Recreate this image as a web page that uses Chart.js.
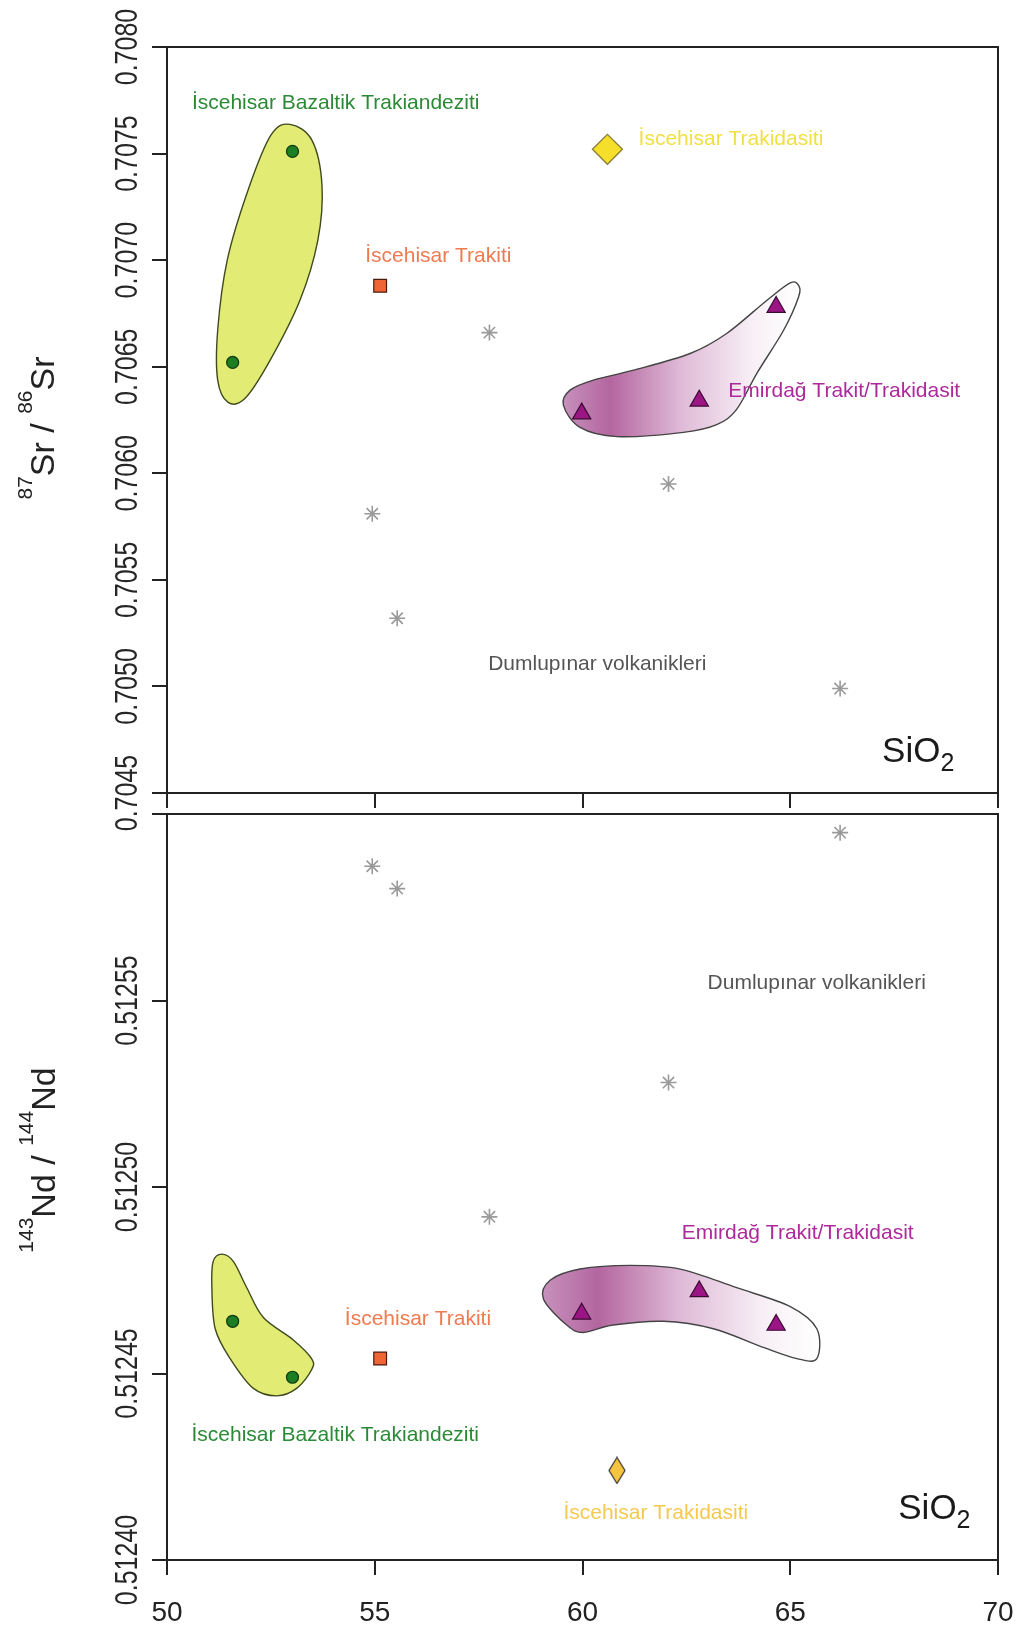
<!DOCTYPE html>
<html>
<head>
<meta charset="utf-8">
<script src="https://cdn.jsdelivr.net/npm/chart.js@4.4.1/dist/chart.umd.min.js"></script>
<style>
html, body { margin: 0; padding: 0; background: #fff; }
#wrap { position: relative; width: 1030px; height: 1629px; }
canvas { position: absolute; left: 0; }
#srChart { top: 0; }
#ndChart { top: 800px; }
</style>
</head>
<body>
<div id="wrap">
  <canvas id="srChart" width="1030" height="840"></canvas>
  <canvas id="ndChart" width="1030" height="829"></canvas>
</div>
<script>
const FONT = '"Liberation Sans", Arial, Helvetica, sans-serif';

// axes
const sio2Ticks = [50, 55, 60, 65, 70];
const sio2TickLabels = ['50', '55', '60', '65', '70'];
const srTicks = [0.7045, 0.7050, 0.7055, 0.7060, 0.7065, 0.7070, 0.7075, 0.7080];
const srTickLabels = ['0.7045', '0.7050', '0.7055', '0.7060', '0.7065', '0.7070', '0.7075', '0.7080'];
const ndTicks = [0.51240, 0.51245, 0.51250, 0.51255, 0.51260];
const ndTickLabels = ['0.51240', '0.51245', '0.51250', '0.51255', ''];

// Dumlupınar volkanikleri
const dumluSiO2 = [54.94, 55.54, 57.76, 62.07, 66.20];
const dumluSr = [0.70581, 0.70532, 0.70666, 0.70595, 0.70499];
const dumluNd = [0.512586, 0.512580, 0.512492, 0.512528, 0.512595];

// İscehisar Bazaltik Trakiandeziti
const bazSiO2 = [51.58, 53.02];
const bazSr = [0.70652, 0.70751];
const bazNd = [0.512464, 0.512449];

// İscehisar Trakiti
const trakitiSiO2 = [55.13];
const trakitiSr = [0.70688];
const trakitiNd = [0.512454];

// İscehisar Trakidasiti
const trakidasitiSiO2Sr = [60.60];
const trakidasitiSr = [0.70752];
const trakidasitiSiO2Nd = [60.83];
const trakidasitiNd = [0.512424];

// Emirdağ Trakit/Trakidasit
const emirSiO2 = [59.98, 62.81, 64.66];
const emirSr = [0.70628, 0.70634, 0.70678];
const emirNd = [0.512466, 0.512472, 0.512463];

// field outlines [SiO2, ratio]
const bazFieldSr = [[52.96, 0.707637], [53.49, 0.707562], [53.73, 0.707351], [53.63, 0.707093], [53.20, 0.706812],
  [52.48, 0.706530], [51.88, 0.706352], [51.47, 0.706333], [51.22, 0.706437], [51.22, 0.706671],
  [51.45, 0.707000], [51.95, 0.707328], [52.50, 0.707586]];
const emirFieldSr = [[59.54, 0.706320], [59.94, 0.706215], [60.83, 0.706172], [62.43, 0.706192], [63.23, 0.706228],
  [63.71, 0.706300], [64.20, 0.706470], [64.84, 0.706671], [65.20, 0.706827], [65.20, 0.706882],
  [65.00, 0.706893], [64.44, 0.706812], [63.47, 0.706656], [62.59, 0.706562], [61.23, 0.706484],
  [60.26, 0.706437], [59.70, 0.706390]];
const bazFieldNd = [[51.32, 0.512482], [51.60, 0.512480], [51.92, 0.512473], [52.32, 0.512465], [53.04, 0.512459],
  [53.48, 0.512454], [53.48, 0.512451], [53.12, 0.512446], [52.64, 0.512444], [52.08, 0.512446],
  [51.52, 0.512454], [51.16, 0.512462], [51.08, 0.512473], [51.11, 0.512480]];
const emirFieldNd = [[59.06, 0.512470], [59.22, 0.512475], [59.94, 0.512478], [61.15, 0.512479], [62.35, 0.512478],
  [63.71, 0.512473], [64.99, 0.512468], [65.64, 0.512462], [65.64, 0.512454], [65.16, 0.512454],
  [64.35, 0.512457], [63.15, 0.512462], [61.95, 0.512464], [60.74, 0.512463], [60.02, 0.512461],
  [59.62, 0.512463]];

function points(xs, ys) {
  return xs.map((x, i) => ({ x: x, y: ys[i] }));
}

// narrow diamond for the lower panel
function makeDiamond(w, h, fill) {
  const c = document.createElement('canvas');
  c.width = w + 2; c.height = h + 2;
  const g = c.getContext('2d');
  g.beginPath();
  g.moveTo(c.width / 2, 1);
  g.lineTo(c.width - 1, c.height / 2);
  g.lineTo(c.width / 2, c.height - 1);
  g.lineTo(1, c.height / 2);
  g.closePath();
  g.fillStyle = fill;
  g.fill();
  g.strokeStyle = '#333';
  g.lineWidth = 1.2;
  g.stroke();
  return c;
}

function smoothPath(ctx, pts) {
  const n = pts.length;
  ctx.beginPath();
  ctx.moveTo(pts[0][0], pts[0][1]);
  for (let i = 0; i < n; i++) {
    const p0 = pts[(i - 1 + n) % n], p1 = pts[i], p2 = pts[(i + 1) % n], p3 = pts[(i + 2) % n];
    ctx.bezierCurveTo(
      p1[0] + (p2[0] - p0[0]) / 6, p1[1] + (p2[1] - p0[1]) / 6,
      p2[0] - (p3[0] - p1[0]) / 6, p2[1] - (p3[1] - p1[1]) / 6,
      p2[0], p2[1]);
  }
  ctx.closePath();
}

// fields behind the markers
const fieldPlugin = {
  id: 'fields',
  beforeDatasetsDraw(chart, args, opts) {
    const ctx = chart.ctx, xs = chart.scales.x, ys = chart.scales.y;
    opts.fields.forEach(f => {
      const pts = f.outline.map(p => [xs.getPixelForValue(p[0]), ys.getPixelForValue(p[1])]);
      ctx.save();
      smoothPath(ctx, pts);
      if (f.gradient) {
        const left = Math.min(...pts.map(p => p[0]));
        const right = Math.max(...pts.map(p => p[0]));
        const grad = ctx.createLinearGradient(left, 0, right, 0);
        grad.addColorStop(0, '#c690bc');
        grad.addColorStop(0.2, '#b4669f');
        grad.addColorStop(0.5, '#dfbad7');
        grad.addColorStop(0.8, '#f7eff5');
        grad.addColorStop(1, '#ffffff');
        ctx.fillStyle = grad;
      } else {
        ctx.fillStyle = f.fill;
      }
      ctx.fill();
      ctx.strokeStyle = f.stroke;
      ctx.lineWidth = 1.4;
      ctx.stroke();
      ctx.restore();
    });
  }
};

function smallSize(size, kind) {
  return Math.round(size * (kind === 'sub' ? 0.72 : 0.62));
}

function measureRich(ctx, parts, size) {
  let w = 0;
  parts.forEach(p => {
    ctx.font = (p[1] ? smallSize(size, p[1]) : size) + 'px ' + FONT;
    w += ctx.measureText(p[0]).width;
  });
  return w;
}

function fillRich(ctx, parts, size, x, y) {
  parts.forEach(p => {
    ctx.font = (p[1] ? smallSize(size, p[1]) : size) + 'px ' + FONT;
    let dy = 0;
    if (p[1] === 'sup') dy = -size * 0.66;
    if (p[1] === 'sub') dy = size * 0.25;
    ctx.fillText(p[0], x, y + dy);
    x += ctx.measureText(p[0]).width;
  });
}

// frame, rotated tick labels, axis title and annotations
const decorPlugin = {
  id: 'decor',
  afterDatasetsDraw(chart, args, opts) {
    const ctx = chart.ctx, a = chart.chartArea, xs = chart.scales.x, ys = chart.scales.y;
    ctx.save();
    ctx.strokeStyle = '#222';
    ctx.lineWidth = 2;
    ctx.beginPath();
    ctx.moveTo(a.left, a.top);
    ctx.lineTo(a.right, a.top);
    ctx.lineTo(a.right, a.bottom);
    ctx.stroke();

    ys.ticks.forEach((t, i) => {
      const label = opts.tickLabels[i];
      if (!label) return;
      const py = ys.getPixelForValue(t.value);
      ctx.save();
      ctx.translate(137, py);
      ctx.rotate(-Math.PI / 2);
      ctx.scale(1, 1.25);
      ctx.font = '25px ' + FONT;
      ctx.fillStyle = '#262626';
      ctx.textAlign = 'center';
      ctx.textBaseline = 'alphabetic';
      ctx.fillText(label, 0, 0);
      ctx.restore();
    });

    ctx.save();
    ctx.fillStyle = '#222';
    ctx.textBaseline = 'alphabetic';
    ctx.textAlign = 'left';
    const tw = measureRich(ctx, opts.title, 34);
    ctx.translate(opts.titleX, opts.titleY);
    ctx.rotate(-Math.PI / 2);
    fillRich(ctx, opts.title, 34, -tw / 2, 0);
    ctx.restore();

    opts.notes.forEach(n => {
      const px = xs.getPixelForValue(n.x), py = ys.getPixelForValue(n.y);
      ctx.fillStyle = n.color;
      ctx.textAlign = 'left';
      ctx.textBaseline = 'alphabetic';
      if (n.rich) {
        fillRich(ctx, n.rich, n.size, px, py);
      } else {
        ctx.font = n.size + 'px ' + FONT;
        ctx.fillText(n.text, px, py);
      }
    });
    ctx.restore();
  }
};

const axisLine = { color: '#222', lineWidth: 2, drawOnChartArea: false, tickLength: 15 };
const axisBorder = { color: '#222', width: 2 };

function baseDatasets(sr) {
  return [
    {
      label: 'Dumlupınar volkanikleri',
      data: points(dumluSiO2, sr ? dumluSr : dumluNd),
      pointStyle: 'star', pointRadius: 8, pointBorderColor: '#9a9a9a', pointBorderWidth: 1.6,
      pointBackgroundColor: '#9a9a9a'
    },
    {
      label: 'İscehisar Bazaltik Trakiandeziti',
      data: points(bazSiO2, sr ? bazSr : bazNd),
      pointStyle: 'circle', pointRadius: 6, pointBackgroundColor: '#1d7d22', pointBorderColor: '#0f3a10', pointBorderWidth: 1.2
    },
    {
      label: 'İscehisar Trakiti',
      data: points(trakitiSiO2, sr ? trakitiSr : trakitiNd),
      pointStyle: 'rect', pointRadius: 9, pointBackgroundColor: '#ef6535', pointBorderColor: '#4a1a0a', pointBorderWidth: 1.2
    },
    sr ? {
      label: 'İscehisar Trakidasiti',
      data: points(trakidasitiSiO2Sr, trakidasitiSr),
      pointStyle: 'rectRot', pointRadius: 15, pointBackgroundColor: '#f5df2a', pointBorderColor: '#8a7d35', pointBorderWidth: 1.3
    } : {
      label: 'İscehisar Trakidasiti',
      data: points(trakidasitiSiO2Nd, trakidasitiNd),
      pointStyle: makeDiamond(16, 26, '#f5c440'), pointRadius: 13
    },
    {
      label: 'Emirdağ Trakit/Trakidasit',
      data: points(emirSiO2, sr ? emirSr : emirNd),
      pointStyle: 'triangle', pointRadius: 10.5, pointBackgroundColor: '#9c1585', pointBorderColor: '#3a0a30', pointBorderWidth: 1.2
    }
  ];
}

function makeChart(id, cfg) {
  return new Chart(document.getElementById(id), {
    type: 'scatter',
    data: { datasets: cfg.datasets },
    options: {
      responsive: false,
      animation: false,
      events: [],
      layout: { padding: cfg.padding },
      plugins: {
        legend: { display: false },
        tooltip: { enabled: false },
        fields: { fields: cfg.fields },
        decor: { tickLabels: cfg.tickLabels, title: cfg.title, titleX: cfg.titleX, titleY: cfg.titleY, notes: cfg.notes }
      },
      scales: {
        x: {
          type: 'linear', min: 50, max: 70,
          afterBuildTicks: s => { s.ticks = sio2Ticks.map(v => ({ value: v })); },
          afterFit: s => { s.height = cfg.xHeight; s.paddingLeft = 0; s.paddingRight = 0; },
          ticks: {
            display: cfg.showX, autoSkip: false, maxRotation: 0, padding: 21,
            font: { family: FONT, size: 28 }, color: '#222',
            callback: (v, i) => sio2TickLabels[i]
          },
          grid: axisLine, border: axisBorder
        },
        y: {
          type: 'linear', min: cfg.yTicks[0], max: cfg.yTicks[cfg.yTicks.length - 1],
          afterBuildTicks: s => { s.ticks = cfg.yTicks.map(v => ({ value: v })); },
          afterFit: s => { s.width = 167; s.paddingTop = 0; s.paddingBottom = 0; },
          ticks: { display: false },
          grid: axisLine, border: axisBorder
        }
      }
    },
    plugins: [fieldPlugin, decorPlugin]
  });
}

makeChart('srChart', {
  datasets: baseDatasets(true),
  padding: { top: 47, right: 32, left: 0, bottom: 0 },
  xHeight: 47, showX: false,
  yTicks: srTicks, tickLabels: srTickLabels,
  title: [['87', 'sup'], ['Sr', ''], [' / ', ''], ['86', 'sup'], ['Sr', '']],
  titleX: 54, titleY: 428,
  fields: [
    { outline: bazFieldSr, fill: '#e2ec74', stroke: '#3f4a1e' },
    { outline: emirFieldSr, gradient: true, stroke: '#444' }
  ],
  notes: [
    { text: 'İscehisar Bazaltik Trakiandeziti', x: 50.60, y: 0.707711, color: '#2a8a36', size: 21 },
    { text: 'İscehisar Trakiti', x: 54.77, y: 0.706992, color: '#ef7a50', size: 21 },
    { text: 'İscehisar Trakidasiti', x: 61.35, y: 0.707539, color: '#f1e044', size: 21 },
    { text: 'Emirdağ Trakit/Trakidasit', x: 63.51, y: 0.706358, color: '#ad2a9b', size: 21 },
    { text: 'Dumlupınar volkanikleri', x: 57.73, y: 0.705077, color: '#555', size: 21 },
    { rich: [['SiO', ''], ['2', 'sub']], x: 67.21, y: 0.704645, color: '#1a1a1a', size: 35 }
  ]
});

makeChart('ndChart', {
  datasets: baseDatasets(false),
  padding: { top: 13, right: 32, left: 0, bottom: 0 },
  xHeight: 69, showX: true,
  yTicks: ndTicks, tickLabels: ndTickLabels,
  title: [['143', 'sup'], ['Nd', ''], [' / ', ''], ['144', 'sup'], ['Nd', '']],
  titleX: 55, titleY: 360,
  fields: [
    { outline: bazFieldNd, fill: '#e2ec74', stroke: '#3f4a1e' },
    { outline: emirFieldNd, gradient: true, stroke: '#444' }
  ],
  notes: [
    { text: 'Dumlupınar volkanikleri', x: 63.01, y: 0.512553, color: '#555', size: 21 },
    { text: 'Emirdağ Trakit/Trakidasit', x: 62.39, y: 0.512486, color: '#ad2a9b', size: 21 },
    { text: 'İscehisar Trakiti', x: 54.28, y: 0.512463, color: '#ef7a50', size: 21 },
    { text: 'İscehisar Bazaltik Trakiandeziti', x: 50.59, y: 0.512432, color: '#2a8a36', size: 21 },
    { text: 'İscehisar Trakidasiti', x: 59.54, y: 0.512411, color: '#f5c850', size: 21 },
    { rich: [['SiO', ''], ['2', 'sub']], x: 67.60, y: 0.512411, color: '#1a1a1a', size: 35 }
  ]
});
</script>
</body>
</html>
